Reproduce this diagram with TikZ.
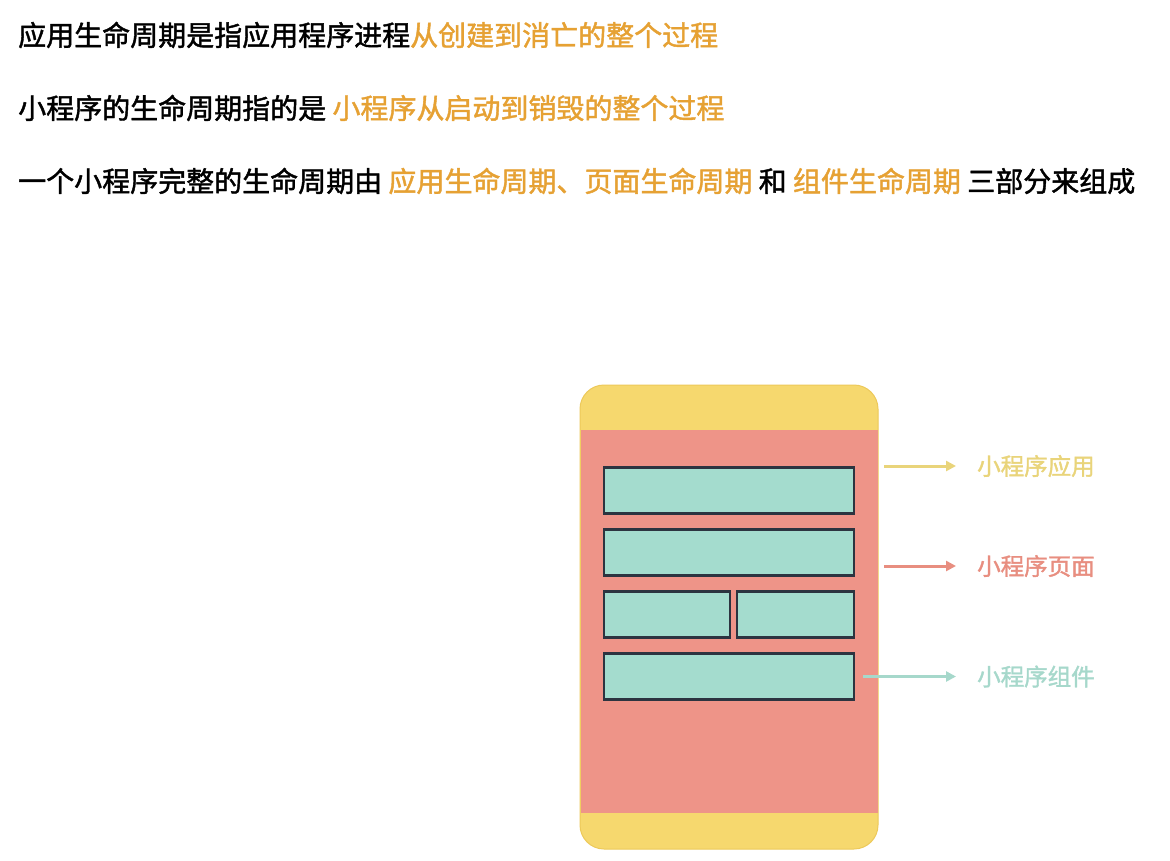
\documentclass[tikz,border=0pt]{standalone}
\usepackage{fontspec}
\newfontfamily\cjk[FakeBold=1.5]{Noto Sans CJK SC}
\usetikzlibrary{arrows.meta,positioning}
\definecolor{hilite}{HTML}{E6A133}
\definecolor{appyellow}{HTML}{F6D86E}
\definecolor{phoneedge}{HTML}{EDC95A}
\definecolor{pagered}{HTML}{EE9488}
\definecolor{compteal}{HTML}{A4DCCE}
\definecolor{boxline}{HTML}{2C3440}
\definecolor{applabel}{HTML}{E9D47A}
\definecolor{pagelabel}{HTML}{E88E80}
\definecolor{complabel}{HTML}{A6D8CB}

\begin{document}
\begin{tikzpicture}[x=1pt, y=-1pt,
  textline/.style={font=\cjk\fontsize{28}{28}\selectfont, anchor=west, inner sep=0pt},
  comp/.style={draw=boxline, fill=compteal, line width=2.5pt, minimum height=46pt, inner sep=0pt},
  tag/.style={font=\cjk\fontsize{23.5}{23.5}\selectfont, anchor=west, inner sep=0pt},
  link/.style={line width=3pt, -{Triangle[length=10pt,width=10pt]}}]
  \useasboundingbox[fill=white] (0,0) rectangle (1170,860);

  % intro lines
  \node[textline] (l1) at (18,35) {应用生命周期是指应用程序进程\textcolor{hilite}{从创建到消亡的整个过程}};
  \node[textline] (l2) at (18,108) {小程序的生命周期指的是 \textcolor{hilite}{小程序从启动到销毁的整个过程}};
  \node[textline] (l3) at (18,181) {一个小程序完整的生命周期由 \textcolor{hilite}{应用生命周期、页面生命周期} 和 \textcolor{hilite}{组件生命周期} 三部分来组成};

  % phone
  \node[draw=phoneedge, fill=appyellow, line width=1pt, rounded corners=24pt,
        minimum width=298pt, minimum height=464pt] (phone) at (729,617) {};
  \node[fill=pagered, minimum width=297pt, minimum height=383pt, inner sep=0pt] (page) at (729,621.5) {};

  % components
  \node[comp, minimum width=250pt] (c1) at (729,490.5) {};
  \node[comp, minimum width=250pt, below=13.5pt of c1] (c2) {};
  \node[comp, minimum width=126pt, below=13.5pt of c2.south west, anchor=north west] (c3) {};
  \node[comp, minimum width=117pt, below=13.5pt of c2.south east, anchor=north east] (c4) {};
  \node[comp, minimum width=250pt, below=13.5pt of c3.south west, anchor=north west] (c5) {};

  % labels
  \node[tag, text=applabel] (app) at (977,466) {小程序应用};
  \node[tag, text=pagelabel] (pg) at (977,566) {小程序页面};
  \node[tag, text=complabel] (cp) at (977,676.5) {小程序组件};

  \coordinate (appsrc) at (884,466);
  \coordinate (pgsrc) at (884,566);
  \draw[link, applabel] (appsrc) -- ([xshift=-21pt]app.west);
  \draw[link, pagelabel] (pgsrc) -- ([xshift=-21pt]pg.west);
  \draw[link, complabel] ([xshift=8pt]c5.east) -- ([xshift=-21pt]cp.west);
\end{tikzpicture}
\end{document}
